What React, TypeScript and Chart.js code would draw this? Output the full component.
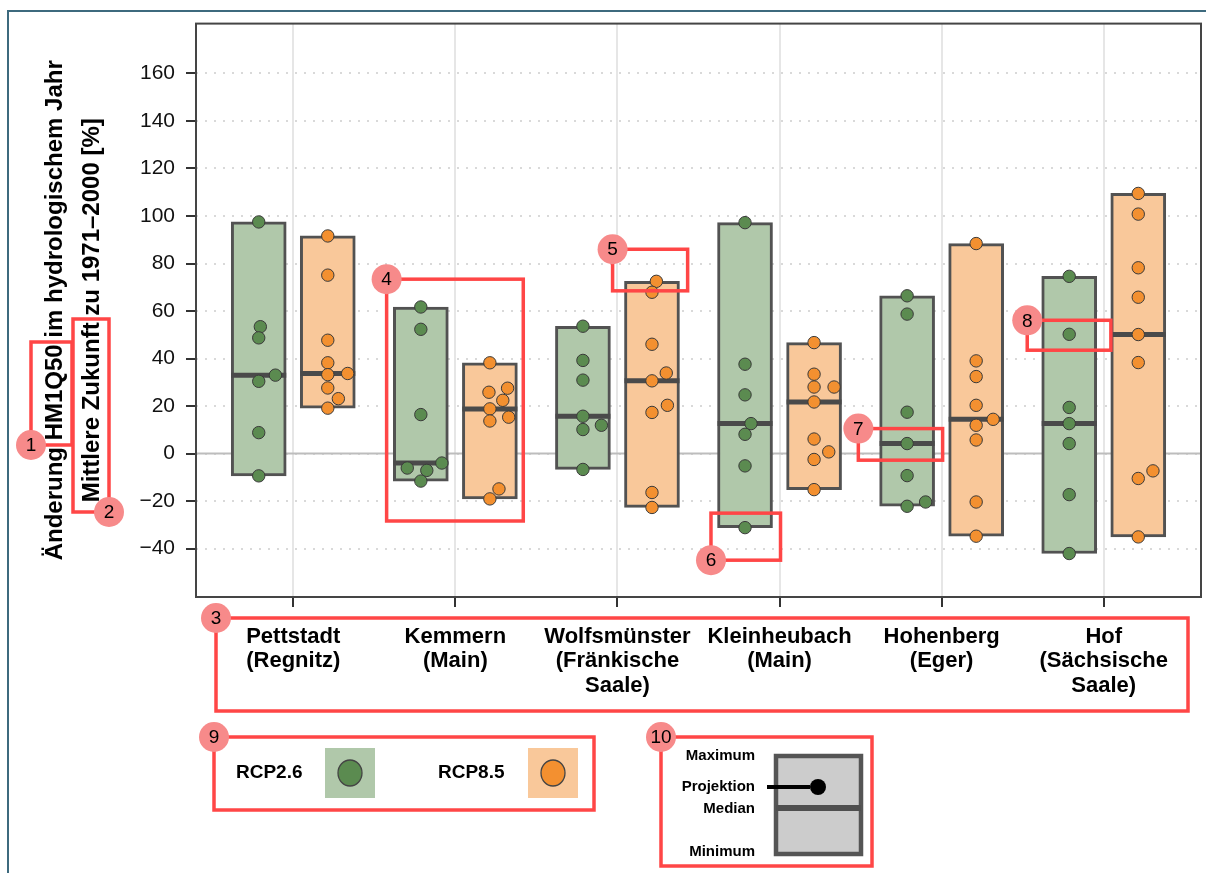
import React, { useEffect, useRef } from 'react';
import { Chart, registerables } from 'chart.js';

Chart.register(...registerables);

// ---------------- data ----------------
const stationLabels: string[][] = [
  ['Pettstadt', '(Regnitz)'],
  ['Kemmern', '(Main)'],
  ['Wolfsmünster', '(Fränkische', 'Saale)'],
  ['Kleinheubach', '(Main)'],
  ['Hohenberg', '(Eger)'],
  ['Hof', '(Sächsische', 'Saale)'],
];

const seriesNames = ['RCP2.6', 'RCP8.5'];

// individual climate projections, change of HM1Q50 in %
const rcp26Values: number[][] = [
  [97.5, 53.4, 48.7, 33.0, 30.4, 8.8, -9.4],
  [61.7, 52.3, 16.4, -4.0, -6.1, -7.1, -11.6],
  [53.6, 39.2, 30.9, 15.7, 11.9, 10.1, -6.7],
  [97.2, 37.6, 24.7, 12.6, 8.1, -5.2, -31.2],
  [66.4, 58.7, 17.4, 4.2, -9.3, -20.4, -22.2],
  [74.6, 50.2, 19.4, 12.6, 4.2, -17.3, -42.1],
];

const rcp85Values: number[][] = [
  [91.6, 75.1, 47.7, 38.2, 33.7, 33.2, 27.6, 23.1, 19.1],
  [38.2, 27.5, 25.8, 22.4, 18.8, 15.3, 13.7, -14.9, -19.1],
  [72.5, 67.9, 46.0, 33.9, 30.6, 20.3, 17.3, -16.4, -22.7],
  [46.7, 33.4, 28.0, 28.0, 21.7, 6.1, 0.7, -2.5, -15.2],
  [88.4, 39.0, 32.4, 20.3, 14.4, 11.9, 5.7, -20.4, -34.8],
  [109.5, 100.8, 78.2, 65.8, 50.1, 38.3, -7.3, -10.5, -35.1],
];

const yTickValues = [-40, -20, 0, 20, 40, 60, 80, 100, 120, 140, 160];

const yTitleLines = ['Änderung HM1Q50 im hydrologischem Jahr', 'Mittlere Zukunft zu 1971\u20132000 [%]'];

const schemaLabels = ['Maximum', 'Projektion', 'Median', 'Minimum'];

// ---------------- styles ----------------
const FONT = "'Liberation Sans', Arial, Helvetica, sans-serif";
const GREEN_FILL = '#b0c8aa';
const ORANGE_FILL = '#f9c89a';
const GREEN_PT = '#5b8b50';
const ORANGE_PT = '#f39030';
const EDGE = '#525252';
const RED = '#ff4646';
const PINK = '#f78a8a';
const OFF = 0.213; // dodge of the two scenarios within a station
const SWARM_R = 5.6;
const SWARM_ASPECT = 1.7;

function stats(vals: number[]) {
  const s = [...vals].sort((a, b) => a - b);
  const n = s.length;
  const median = n % 2 ? s[(n - 1) / 2] : (s[n / 2 - 1] + s[n / 2]) / 2;
  return { min: s[0], max: s[n - 1], median };
}

const stats26 = rcp26Values.map(stats);
const stats85 = rcp85Values.map(stats);

// seaborn-like beeswarm on pixel y values, returns x offsets
function beeswarm(ys: number[], r: number): number[] {
  const order = ys.map((_, i) => i).sort((a, b) => ys[b] - ys[a]);
  const placed: { x: number; y: number }[] = [];
  const out = new Array(ys.length).fill(0);
  const need = 4 * r * r;
  for (const idx of order) {
    const y = ys[idx];
    const neighbors: { x: number; y: number }[] = [];
    for (let k = placed.length - 1; k >= 0; k--) {
      if (Math.abs(y - placed[k].y) < 2 * r) neighbors.push(placed[k]);
      else break;
    }
    const cands: number[] = [0];
    let leftFirst = false;
    for (const nb of neighbors) {
      const dy = y - nb.y;
      const dx = Math.sqrt(Math.max(need - dy * dy, 0)) * 1.05;
      if (leftFirst) cands.push(nb.x - dx, nb.x + dx);
      else cands.push(nb.x + dx, nb.x - dx);
      leftFirst = !leftFirst;
    }
    const sorted = cands
      .map((c, i) => ({ c, i }))
      .sort((a, b) => Math.abs(a.c) - Math.abs(b.c) || a.i - b.i);
    let chosen = sorted[sorted.length - 1].c;
    for (const s of sorted) {
      if (neighbors.every((nb) => (nb.x - s.c) ** 2 + (nb.y - y) ** 2 >= need)) {
        chosen = s.c;
        break;
      }
    }
    placed.push({ x: chosen, y });
    out[idx] = chosen;
  }
  return out;
}

const swarmPlugin = {
  id: 'swarm',
  afterDatasetsUpdate(chart: any) {
    chart.data.datasets.forEach((ds: any, i: number) => {
      if (!ds.swarm) return;
      const meta = chart.getDatasetMeta(i);
      const groups = new Map<number, any[]>();
      meta.data.forEach((el: any) => {
        const key = Math.round(el.x);
        if (!groups.has(key)) groups.set(key, []);
        groups.get(key)!.push(el);
      });
      groups.forEach((els) => {
        const offs = beeswarm(els.map((e) => e.y), SWARM_R);
        els.forEach((e, k) => {
          e.x += offs[k] * SWARM_ASPECT;
        });
      });
    });
  },
};

// callouts tied to data coordinates: [label, xMin, xMax, yMin, yMax]
const dataCallouts: [string, number, number, number, number][] = [
  ['4', 0.576, 1.419, -28.4, 73.4],
  ['5', 1.97, 2.433, 68.5, 86.0],
  ['6', 2.577, 3.006, -44.9, -25.1],
  ['7', 3.486, 4.006, -2.8, 10.5],
  ['8', 4.528, 5.044, 43.5, 56.1],
];
const dataCalloutCorner: Record<string, string> = { '4': 'tl', '5': 'tl', '6': 'bl', '7': 'tl', '8': 'tl' };

function callout(ctx: CanvasRenderingContext2D, x1: number, y1: number, x2: number, y2: number, label: string, corner: string) {
  ctx.save();
  ctx.strokeStyle = RED;
  ctx.lineWidth = 3.5;
  ctx.strokeRect(x1, y1, x2 - x1, y2 - y1);
  const cx = corner[1] === 'l' ? x1 : x2;
  const cy = corner[0] === 't' ? y1 : y2;
  ctx.beginPath();
  ctx.arc(cx, cy, 15, 0, Math.PI * 2);
  ctx.fillStyle = PINK;
  ctx.fill();
  ctx.fillStyle = '#000';
  ctx.font = `19px ${FONT}`;
  ctx.textAlign = 'center';
  ctx.textBaseline = 'middle';
  ctx.fillText(label, cx, cy + 1);
  ctx.restore();
}

const decorPlugin = {
  id: 'decor',
  beforeDatasetsDraw(chart: any) {
    const { ctx, chartArea: a, scales } = chart;
    const y0 = scales.y.getPixelForValue(0);
    ctx.save();
    ctx.strokeStyle = '#bdbdbd';
    ctx.lineWidth = 2;
    ctx.beginPath();
    ctx.moveTo(a.left, y0);
    ctx.lineTo(a.right, y0);
    ctx.stroke();
    ctx.restore();
  },
  afterDatasetsDraw(chart: any) {
    const { ctx, chartArea: a } = chart;
    ctx.save();
    ctx.strokeStyle = '#454545';
    ctx.lineWidth = 2;
    ctx.strokeRect(a.left, a.top, a.right - a.left, a.bottom - a.top);
    ctx.restore();
  },
  afterDraw(chart: any) {
    const { ctx, scales } = chart;
    const xs = scales.x;
    const ys = scales.y;
    ctx.save();
    // page frame
    ctx.strokeStyle = '#3d6a7e';
    ctx.lineWidth = 2;
    ctx.beginPath();
    ctx.moveTo(8, 873);
    ctx.lineTo(8, 11);
    ctx.lineTo(1206, 11);
    ctx.stroke();

    // legend panel (9)
    ctx.textAlign = 'left';
    ctx.textBaseline = 'middle';
    const swatches = [
      { name: seriesNames[0], tx: 236, sx: 325, fill: GREEN_FILL, pt: GREEN_PT },
      { name: seriesNames[1], tx: 438, sx: 528, fill: ORANGE_FILL, pt: ORANGE_PT },
    ];
    swatches.forEach((s) => {
      ctx.font = `bold 19px ${FONT}`;
      ctx.fillStyle = '#000';
      ctx.fillText(s.name, s.tx, 773);
      ctx.fillStyle = s.fill;
      ctx.fillRect(s.sx, 748, 50, 50);
      ctx.beginPath();
      ctx.ellipse(s.sx + 25, 773, 12, 13, 0, 0, Math.PI * 2);
      ctx.fillStyle = s.pt;
      ctx.fill();
      ctx.strokeStyle = '#444';
      ctx.lineWidth = 1.3;
      ctx.stroke();
    });

    // schematic panel (10)
    ctx.fillStyle = '#cccccc';
    ctx.fillRect(776, 756, 85, 98);
    ctx.strokeStyle = '#555';
    ctx.lineWidth = 4.5;
    ctx.strokeRect(776, 756, 85, 98);
    ctx.fillStyle = '#4f4f4f';
    ctx.fillRect(776, 805, 85, 6);
    ctx.strokeStyle = '#000';
    ctx.lineWidth = 4;
    ctx.beginPath();
    ctx.moveTo(767, 787);
    ctx.lineTo(810, 787);
    ctx.stroke();
    ctx.beginPath();
    ctx.arc(818, 787, 8, 0, Math.PI * 2);
    ctx.fillStyle = '#000';
    ctx.fill();
    ctx.font = `bold 15px ${FONT}`;
    ctx.textAlign = 'right';
    const ly = [756, 787, 809, 852];
    schemaLabels.forEach((t, i) => ctx.fillText(t, 755, ly[i]));
    ctx.restore();

    // callouts
    callout(ctx, 31, 342, 72, 445, '1', 'bl');
    callout(ctx, 73, 319, 109, 512, '2', 'br');
    callout(ctx, 216, 618, 1188, 711, '3', 'tl');
    dataCallouts.forEach(([lab, x0, x1, y0, y1]) => {
      callout(ctx, xs.getPixelForValue(x0), ys.getPixelForValue(y1), xs.getPixelForValue(x1), ys.getPixelForValue(y0), lab, dataCalloutCorner[lab]);
    });
    callout(ctx, 214, 737, 594, 810, '9', 'tl');
    callout(ctx, 661, 737, 872, 866, '10', 'tl');
  },
};

export default function App() {
  const ref = useRef<HTMLCanvasElement>(null);
  useEffect(() => {
    const boxData = (st: any[], sign: number) => st.map((s, i) => ({ x: i + sign * OFF, y: [s.min, s.max] }));
    const medData = (st: any[], sign: number) => st.map((s, i) => ({ x: i + sign * OFF, y: s.median }));
    const ptData = (vals: number[][], sign: number) => vals.flatMap((vs, i) => vs.map((v) => ({ x: i + sign * OFF, y: v })));

    const barCommon = { type: 'bar', borderColor: EDGE, borderWidth: 3, borderSkipped: false, barThickness: 55, grouped: false, order: 3 };
    const medCommon = { type: 'scatter', pointStyle: 'line', pointRadius: 27.5, pointBorderWidth: 5, pointBorderColor: '#4a4a4a', pointBackgroundColor: '#4a4a4a', order: 2 };
    const ptCommon = { type: 'scatter', pointRadius: 6.2, pointBorderWidth: 1, pointBorderColor: '#3a3a3a', order: 1, swarm: true };

    const chart = new Chart(ref.current as HTMLCanvasElement, {
      type: 'bar',
      data: {
        datasets: [
          { ...barCommon, label: seriesNames[0], data: boxData(stats26, -1), backgroundColor: GREEN_FILL },
          { ...barCommon, label: seriesNames[1], data: boxData(stats85, 1), backgroundColor: ORANGE_FILL },
          { ...medCommon, label: 'Median ' + seriesNames[0], data: medData(stats26, -1) },
          { ...medCommon, label: 'Median ' + seriesNames[1], data: medData(stats85, 1) },
          { ...ptCommon, label: seriesNames[0], data: ptData(rcp26Values, -1), pointBackgroundColor: GREEN_PT },
          { ...ptCommon, label: seriesNames[1], data: ptData(rcp85Values, 1), pointBackgroundColor: ORANGE_PT },
        ] as any,
      },
      options: {
        responsive: false,
        animation: false,
        events: [],
        layout: { autoPadding: false, padding: { top: 23, right: 5, bottom: 0, left: 0 } },
        plugins: { legend: { display: false }, tooltip: { enabled: false } },
        scales: {
          x: {
            type: 'linear',
            min: -0.6,
            max: 5.6,
            offset: false,
            afterBuildTicks: (s: any) => {
              s.ticks = stationLabels.map((_, i) => ({ value: i }));
            },
            afterFit: (s: any) => {
              s.height = 276;
            },
            grid: { offset: false, color: '#e6e6e6', lineWidth: 2, tickColor: '#333', tickLength: 10, tickWidth: 2 },
            border: { display: false },
            ticks: {
              autoSkip: false,
              maxRotation: 0,
              minRotation: 0,
              padding: 18,
              color: '#000',
              font: { family: FONT, size: 22, weight: 'bold', lineHeight: 1.1 },
              callback: (v: any) => stationLabels[Math.round(v)] ?? '',
            },
          },
          y: {
            type: 'linear',
            min: -60.4,
            max: 181,
            afterBuildTicks: (s: any) => {
              s.ticks = yTickValues.map((v) => ({ value: v }));
            },
            afterFit: (s: any) => {
              s.width = 196;
            },
            grid: { color: '#d9d9d9', lineWidth: 2, tickColor: '#333', tickLength: 10, tickWidth: 2 },
            border: { display: false, dash: [2, 7] },
            ticks: {
              padding: 11,
              color: '#111',
              font: { family: FONT, size: 21 },
              callback: (v: any) => String(v).replace('-', '\u2212'),
            },
            title: {
              display: true,
              text: yTitleLines,
              color: '#000',
              font: { family: FONT, size: 24, weight: 'bold', lineHeight: 1.55 },
              padding: { top: 37, bottom: 0 },
            },
          },
        },
      } as any,
      plugins: [swarmPlugin, decorPlugin],
    });
    return () => chart.destroy();
  }, []);

  return (
    <div style={{ position: 'fixed', left: 0, top: 0, width: 1206, height: 873, background: '#fff' }}>
      <canvas ref={ref} width={1206} height={873} style={{ display: 'block', width: 1206, height: 873 }} />
    </div>
  );
}
